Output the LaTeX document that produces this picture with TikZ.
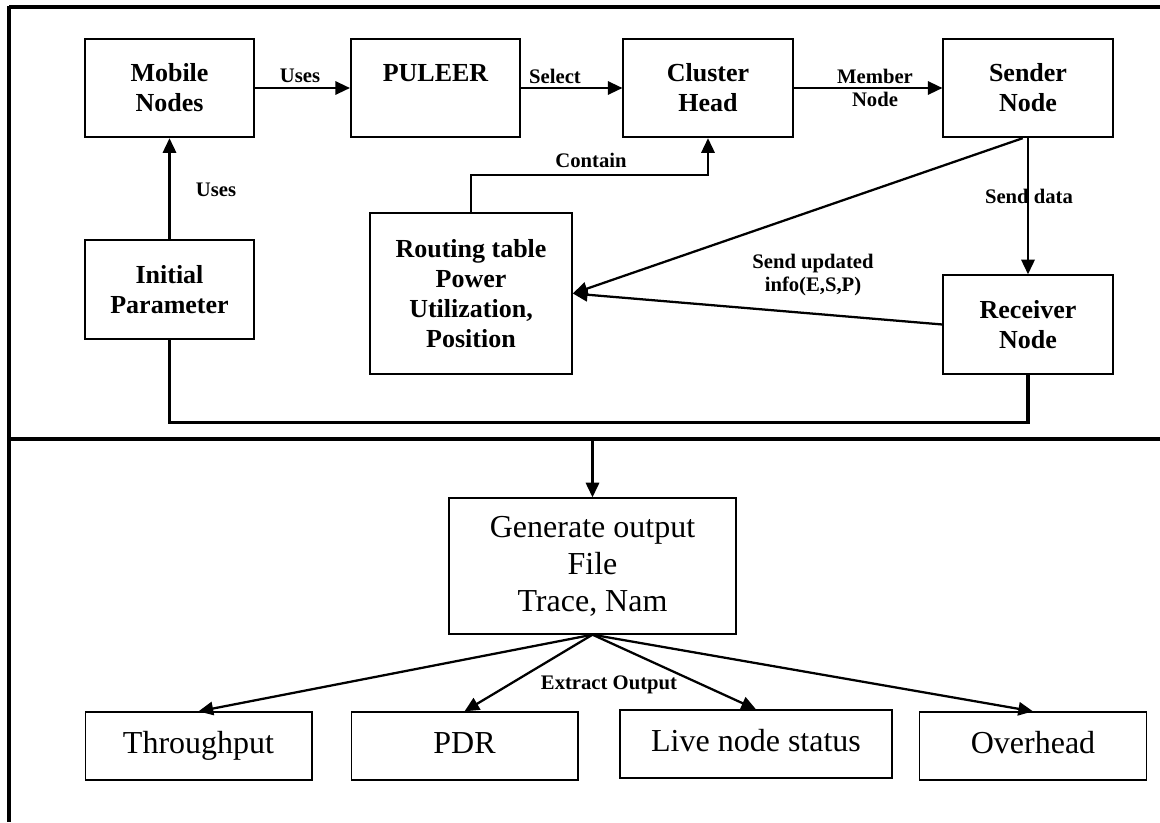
\documentclass[tikz,border=0pt]{standalone}
\usepackage{fontspec}
\setmainfont{Liberation Serif}
\usetikzlibrary{arrows.meta}

\begin{document}
\begin{tikzpicture}[x=0.75pt,y=-0.75pt,
  blk/.style={draw, line width=1.3pt, minimum width=127pt, minimum height=74pt, inner sep=0pt, align=center, font=\fontsize{19.5}{22.5}\selectfont\bfseries},
  outbox/.style={draw, line width=1pt, minimum width=170pt, minimum height=51pt, inner sep=0pt, text height=16pt, text depth=5pt, font=\fontsize{24}{28}\selectfont},
  lbl/.style={align=center, inner sep=0pt, font=\fontsize{15.5}{17}\selectfont\bfseries},
  arr/.style={-{Triangle[length=11pt,width=10pt]}, line width=1.7pt},
  frame/.style={line width=2.4pt}]
\useasboundingbox (0,0) rectangle (1160,822);

\draw[frame] (9,7) -- (1160,7);
\draw[frame] (9,5.5) -- (9,822);
\draw[frame] (9,439) -- (1160,439);

\node[blk] (mn) at (169.5,88) {Mobile\\Nodes};
\node[blk] (pu) at (435.5,88) {PULEER\\~};
\node[blk] (ch) at (708,88) {Cluster\\Head};
\node[blk] (sn) at (1028,88) {Sender\\Node};
\node[blk] (ip) at (169.5,289.5) {Initial\\Parameter};
\node[blk, minimum width=151.5pt, minimum height=120.75pt] (rt) at (471,293.5) {Routing table\\Power\\Utilization,\\Position};
\node[blk] (rn) at (1028,324.5) {Receiver\\Node};

\node[lbl] (l1) at (300,76) {Uses};
\node[lbl] (l2) at (555,76) {Select};
\node[lbl] (l3) at (875,88) {Member\\Node};
\node[lbl] (l4) at (216,190) {Uses};
\node[lbl] (l5) at (591,160) {Contain};
\node[lbl] (l6) at (1029,196) {Send data};
\node[lbl] (l7) at (813,275) {Send updated\\info(E,S,P)};

\draw[arr] (mn) -- (pu);
\draw[arr] (pu) -- (ch);
\draw[arr] (ch) -- (sn);
\draw[arr] (ip) -- (mn);
\draw[arr] (rt.north) -- ++(0,-37) -| (ch.south);
\draw[arr] (sn) -- (rn);
\draw[arr] ([xshift=-4pt]sn.south) -- (rt.east);
\draw[arr] (rn.west) -- (rt.east);
\draw[line width=2.4pt] (ip.south) -- ++(0,83) -| (rn.south);

\node[outbox, minimum width=215.25pt, minimum height=102pt, text height=, text depth=, align=center, font=\fontsize{24}{27.75}\selectfont] (go) at (592.5,566) {Generate output\\File\\Trace, Nam};
\node[outbox] (tp) at (198.5,746) {Throughput};
\node[outbox] (pd) at (464.5,746) {PDR};
\node[outbox, minimum width=204pt] (ls) at (756,744) {Live node status};
\node[outbox] (oh) at (1033,746) {Overhead};
\node[lbl] (l8) at (609,685) {Extract Output};

\coordinate (dv) at (592.5,439);
\draw[arr] (dv) -- (go);
\foreach \b in {tp,pd,ls,oh}
\draw[arr] (go.south) -- (\b.north);
\end{tikzpicture}
\end{document}
